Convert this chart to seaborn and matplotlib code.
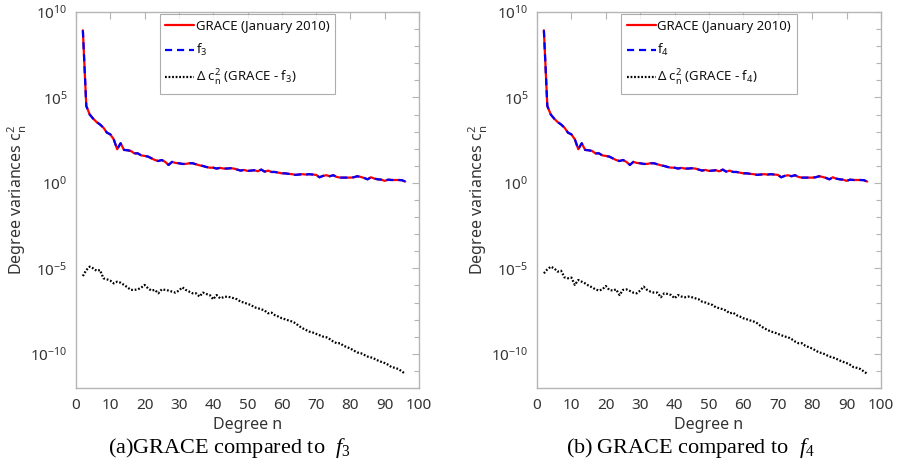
import numpy as np
import pandas as pd
import matplotlib
matplotlib.use("Agg")
import matplotlib.pyplot as plt
import matplotlib.ticker as mticker
import seaborn as sns

sns.set_style("white")
plt.rcParams['font.family'] = ['Noto Sans', 'DejaVu Sans']
plt.rcParams['mathtext.default'] = 'regular'
plt.rcParams['mathtext.fontset'] = 'custom'
plt.rcParams['mathtext.it'] = 'Liberation Serif:italic'
plt.rcParams['mathtext.rm'] = 'Noto Sans'

degrees = list(range(2, 97))

# log10 of GRACE degree variances (same model curve f_k overlaps)
grace_log = [8.93, 4.5, 4.0, 3.76, 3.56, 3.42, 3.23, 2.94, 2.84, 2.55,
             1.97, 2.32, 1.93, 1.91, 1.87, 1.73, 1.73, 1.61, 1.58, 1.54,
             1.44, 1.34, 1.28, 1.34, 1.23, 1.05, 1.23, 1.17, 1.15, 1.11,
             1.11, 1.15, 1.15, 1.09, 1.03, 0.99, 0.93, 0.89, 0.89, 0.84,
             0.88, 0.84, 0.84, 0.86, 0.84, 0.78, 0.72, 0.76, 0.70, 0.72,
             0.74, 0.68, 0.78, 0.66, 0.72, 0.64, 0.64, 0.60, 0.56, 0.56,
             0.53, 0.51, 0.47, 0.49, 0.51, 0.49, 0.51, 0.49, 0.47, 0.33,
             0.41, 0.45, 0.39, 0.45, 0.35, 0.31, 0.31, 0.31, 0.31, 0.33,
             0.39, 0.35, 0.29, 0.21, 0.33, 0.25, 0.21, 0.19, 0.12, 0.19,
             0.17, 0.17, 0.17, 0.16, 0.08]

delta3_log = [-5.45, -5.10, -4.90, -5.00, -5.14, -5.10, -5.58, -5.64, -5.72, -5.88,
              -5.78, -5.84, -5.97, -6.11, -6.26, -6.26, -6.23, -6.13, -5.97, -6.17,
              -6.30, -6.26, -6.46, -6.23, -6.26, -6.30, -6.36, -6.42, -6.30, -6.11,
              -6.26, -6.36, -6.46, -6.46, -6.65, -6.42, -6.50, -6.56, -6.81, -6.56,
              -6.75, -6.69, -6.65, -6.69, -6.75, -6.81, -6.95, -7.00, -7.08, -7.14,
              -7.28, -7.33, -7.39, -7.47, -7.63, -7.59, -7.74, -7.82, -7.92, -7.98,
              -8.05, -8.11, -8.21, -8.37, -8.50, -8.60, -8.70, -8.75, -8.83, -8.91,
              -8.99, -9.03, -9.14, -9.28, -9.38, -9.38, -9.53, -9.61, -9.69, -9.81,
              -9.92, -9.96, -10.06, -10.16, -10.21, -10.29, -10.39, -10.47, -10.54, -10.64,
              -10.78, -10.82, -10.89, -11.03, -11.17]

delta4_log = [-5.29, -5.06, -4.90, -5.00, -5.19, -5.14, -5.53, -5.58, -5.54, -5.97,
              -5.68, -5.78, -5.88, -6.01, -6.11, -6.23, -6.30, -6.23, -6.03, -6.26,
              -6.30, -6.23, -6.56, -6.26, -6.23, -6.32, -6.42, -6.46, -6.30, -6.07,
              -6.26, -6.36, -6.42, -6.42, -6.69, -6.46, -6.50, -6.56, -6.75, -6.56,
              -6.65, -6.69, -6.65, -6.69, -6.75, -6.81, -6.95, -7.00, -7.08, -7.14,
              -7.28, -7.33, -7.39, -7.47, -7.63, -7.59, -7.74, -7.82, -7.92, -7.98,
              -8.05, -8.11, -8.21, -8.37, -8.50, -8.60, -8.70, -8.75, -8.83, -8.91,
              -8.99, -9.03, -9.14, -9.28, -9.38, -9.38, -9.53, -9.61, -9.69, -9.81,
              -9.92, -9.96, -10.06, -10.16, -10.21, -10.29, -10.39, -10.47, -10.54, -10.64,
              -10.78, -10.82, -10.89, -11.03, -11.17]

panels = [
    dict(model="3", delta=delta3_log, caption="(a)GRACE compared to  "),
    dict(model="4", delta=delta4_log, caption="(b)\u2009GRACE compared to  "),
]

xticks = list(range(0, 101, 10))
ymajor_exp = [-10, -5, 0, 5, 10]

fig = plt.figure(figsize=(9.0, 4.74), dpi=100)
axes_rects = [[76/900, 1-388/474, 343/900, 376/474],
              [537/900, 1-388/474, 344/900, 376/474]]
caption_x = [229/900, 690/900]

spine_col = '#b5b5b5'
text_col = '#333333'


def exp_label(v, pos):
    e = int(round(np.log10(v)))
    return r'$10^{%d}$' % e


for p, rect, cx in zip(panels, axes_rects, caption_x):
    ax = fig.add_axes(rect)
    df = pd.DataFrame({
        "n": degrees,
        "grace": np.power(10.0, grace_log),
        "model": np.power(10.0, grace_log),
        "delta": np.power(10.0, p["delta"]),
    })
    sns.lineplot(data=df, x="n", y="grace", ax=ax, color='#ff0000', lw=1.6,
                 label='GRACE (January 2010)')
    sns.lineplot(data=df, x="n", y="model", ax=ax, color='#0000ff', lw=1.6,
                 linestyle=(0, (3.2, 2.2)), label=r'$f_{%s}$' % p["model"])
    sns.lineplot(data=df, x="n", y="delta", ax=ax, color='black', lw=1.6,
                 linestyle=(0, (0.8, 0.8)),
                 label='\u0394 $c_n^2$ (GRACE - $f_{%s}$)' % p["model"])
    ax.set_yscale('log')
    ax.set_xlim(0, 100)
    ax.set_ylim(1e-12, 1e10)
    ax.set_xticks(xticks)
    ax.yaxis.set_major_locator(mticker.FixedLocator([10.0**e for e in ymajor_exp]))
    ax.yaxis.set_minor_locator(mticker.FixedLocator([10.0**e for e in range(-12, 11)]))
    ax.yaxis.set_major_formatter(mticker.FuncFormatter(exp_label))
    ax.yaxis.set_minor_formatter(mticker.NullFormatter())
    ax.tick_params(axis='both', which='both', direction='in', top=True, right=True,
                   color=spine_col, labelcolor=text_col, labelsize=11, width=0.8)
    ax.tick_params(axis='both', which='major', length=5)
    ax.tick_params(axis='x', which='major', pad=7)
    ax.tick_params(axis='y', which='major', pad=6)
    ax.tick_params(axis='y', which='minor', length=3.5)
    for s in ax.spines.values():
        s.set_color(spine_col)
        s.set_linewidth(1.0)
    ax.set_xlabel('Degree n', fontsize=11.5, color=text_col, labelpad=3)
    ax.set_ylabel('Degree variances $c_n^2$', fontsize=11.5, color=text_col, labelpad=1)
    leg = ax.legend(loc='upper center', bbox_to_anchor=(0.5, 1.0), borderaxespad=0.15,
                    fontsize=9.5, handlelength=2.2, handletextpad=0.1,
                    frameon=True, fancybox=False, labelspacing=0.7, borderpad=0.45)
    leg.get_frame().set_edgecolor('#999999')
    leg.get_frame().set_linewidth(0.8)
    for t in leg.get_texts():
        t.set_color('#111111')
    fig.text(cx, 1-448/474, p["caption"] + r'$\mathit{f}_{%s}$' % p["model"],
             ha='center', va='center', fontsize=16, family='Liberation Serif',
             color='black')

fig.savefig('out.png', dpi=100)
